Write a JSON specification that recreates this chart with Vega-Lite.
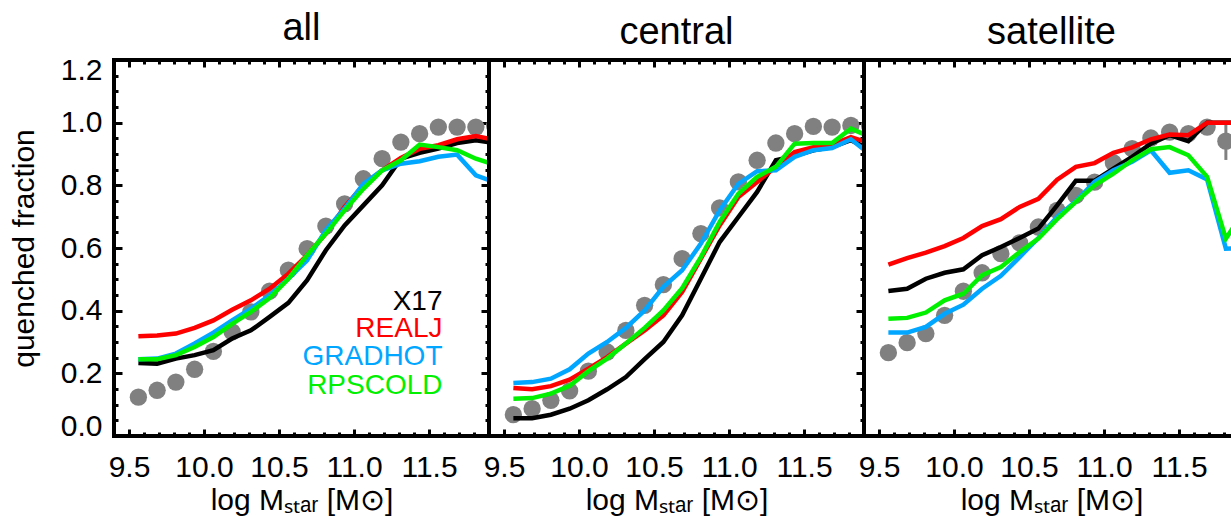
{
"$schema": "https://vega.github.io/schema/vega-lite/v6.json",
"padding": {"left": 7, "top": 8, "right": 0, "bottom": 0},
"background": "white",
"spacing": 0,
"bounds": "flush",
"config": {
  "view": {"stroke": "black", "strokeWidth": 4},
  "axis": {"labelFont": "Liberation Sans", "titleFont": "Liberation Sans", "titleFontWeight": "normal", "labelColor": "black", "titleColor": "black", "tickColor": "black", "domain": false, "grid": false},
  "title": {"font": "Liberation Sans", "fontSize": 38, "fontWeight": "normal", "color": "black", "baseline": "alphabetic", "offset": 7, "frame": "group", "anchor": "middle"}
},
"datasets": {
  "pts": [
    {"panel":"all","x":9.5625,"y":0.124},{"panel":"all","x":9.6875,"y":0.146},{"panel":"all","x":9.8125,"y":0.172},{"panel":"all","x":9.9375,"y":0.213},{"panel":"all","x":10.0625,"y":0.270},{"panel":"all","x":10.1875,"y":0.332},{"panel":"all","x":10.3125,"y":0.396},{"panel":"all","x":10.4375,"y":0.462},{"panel":"all","x":10.5625,"y":0.529},{"panel":"all","x":10.6875,"y":0.598},{"panel":"all","x":10.8125,"y":0.670},{"panel":"all","x":10.9375,"y":0.741},{"panel":"all","x":11.0625,"y":0.821},{"panel":"all","x":11.1875,"y":0.885},{"panel":"all","x":11.3125,"y":0.938},{"panel":"all","x":11.4375,"y":0.965},{"panel":"all","x":11.5625,"y":0.986},{"panel":"all","x":11.6875,"y":0.986},{"panel":"all","x":11.8125,"y":0.986},{"panel":"all","x":11.9375,"y":0.99},
    {"panel":"central","x":9.5625,"y":0.068},{"panel":"central","x":9.6875,"y":0.087},{"panel":"central","x":9.8125,"y":0.114},{"panel":"central","x":9.9375,"y":0.144},{"panel":"central","x":10.0625,"y":0.207},{"panel":"central","x":10.1875,"y":0.268},{"panel":"central","x":10.3125,"y":0.337},{"panel":"central","x":10.4375,"y":0.417},{"panel":"central","x":10.5625,"y":0.483},{"panel":"central","x":10.6875,"y":0.566},{"panel":"central","x":10.8125,"y":0.646},{"panel":"central","x":10.9375,"y":0.728},{"panel":"central","x":11.0625,"y":0.811},{"panel":"central","x":11.1875,"y":0.880},{"panel":"central","x":11.3125,"y":0.935},{"panel":"central","x":11.4375,"y":0.965},{"panel":"central","x":11.5625,"y":0.988},{"panel":"central","x":11.6875,"y":0.986},{"panel":"central","x":11.8125,"y":0.991},{"panel":"central","x":11.9375,"y":0.99},
    {"panel":"satellite","x":9.5625,"y":0.266},{"panel":"satellite","x":9.6875,"y":0.298},{"panel":"satellite","x":9.8125,"y":0.327},{"panel":"satellite","x":9.9375,"y":0.385},{"panel":"satellite","x":10.0625,"y":0.462},{"panel":"satellite","x":10.1875,"y":0.521},{"panel":"satellite","x":10.3125,"y":0.582},{"panel":"satellite","x":10.4375,"y":0.616},{"panel":"satellite","x":10.5625,"y":0.667},{"panel":"satellite","x":10.6875,"y":0.720},{"panel":"satellite","x":10.8125,"y":0.768},{"panel":"satellite","x":10.9375,"y":0.810},{"panel":"satellite","x":11.0625,"y":0.872},{"panel":"satellite","x":11.1875,"y":0.917},{"panel":"satellite","x":11.3125,"y":0.951},{"panel":"satellite","x":11.4375,"y":0.970},{"panel":"satellite","x":11.5625,"y":0.965},{"panel":"satellite","x":11.6875,"y":0.986},{"panel":"satellite","x":11.8125,"y":0.941}
  ],
  "err": [{"panel":"satellite","x":11.8125,"lo":0.881,"hi":0.993}],
  "leg": [{"model":"X17","x":11.59,"y":0.402},{"model":"REALJ","x":11.59,"y":0.316},{"model":"GRADHOT","x":11.59,"y":0.227},{"model":"RPSCOLD","x":11.59,"y":0.134}],
  "lines": [
    {"panel":"all","model":"X17","x":9.5625,"y":0.233},{"panel":"all","model":"X17","x":9.6875,"y":0.231},{"panel":"all","model":"X17","x":9.8125,"y":0.247},{"panel":"all","model":"X17","x":9.9375,"y":0.258},{"panel":"all","model":"X17","x":10.0625,"y":0.274},{"panel":"all","model":"X17","x":10.1875,"y":0.311},{"panel":"all","model":"X17","x":10.3125,"y":0.337},{"panel":"all","model":"X17","x":10.4375,"y":0.380},{"panel":"all","model":"X17","x":10.5625,"y":0.425},{"panel":"all","model":"X17","x":10.6875,"y":0.497},{"panel":"all","model":"X17","x":10.8125,"y":0.593},{"panel":"all","model":"X17","x":10.9375,"y":0.672},{"panel":"all","model":"X17","x":11.0625,"y":0.736},{"panel":"all","model":"X17","x":11.1875,"y":0.800},{"panel":"all","model":"X17","x":11.3125,"y":0.885},{"panel":"all","model":"X17","x":11.4375,"y":0.904},{"panel":"all","model":"X17","x":11.5625,"y":0.917},{"panel":"all","model":"X17","x":11.6875,"y":0.935},{"panel":"all","model":"X17","x":11.8125,"y":0.944},{"panel":"all","model":"X17","x":11.9375,"y":0.935},
    {"panel":"all","model":"REALJ","x":9.5625,"y":0.318},{"panel":"all","model":"REALJ","x":9.6875,"y":0.321},{"panel":"all","model":"REALJ","x":9.8125,"y":0.327},{"panel":"all","model":"REALJ","x":9.9375,"y":0.345},{"panel":"all","model":"REALJ","x":10.0625,"y":0.369},{"panel":"all","model":"REALJ","x":10.1875,"y":0.403},{"panel":"all","model":"REALJ","x":10.3125,"y":0.433},{"panel":"all","model":"REALJ","x":10.4375,"y":0.470},{"panel":"all","model":"REALJ","x":10.5625,"y":0.518},{"panel":"all","model":"REALJ","x":10.6875,"y":0.577},{"panel":"all","model":"REALJ","x":10.8125,"y":0.646},{"panel":"all","model":"REALJ","x":10.9375,"y":0.731},{"panel":"all","model":"REALJ","x":11.0625,"y":0.800},{"panel":"all","model":"REALJ","x":11.1875,"y":0.848},{"panel":"all","model":"REALJ","x":11.3125,"y":0.887},{"panel":"all","model":"REALJ","x":11.4375,"y":0.917},{"panel":"all","model":"REALJ","x":11.5625,"y":0.928},{"panel":"all","model":"REALJ","x":11.6875,"y":0.947},{"panel":"all","model":"REALJ","x":11.8125,"y":0.957},{"panel":"all","model":"REALJ","x":11.9375,"y":0.945},
    {"panel":"all","model":"GRADHOT","x":9.5625,"y":0.245},{"panel":"all","model":"GRADHOT","x":9.6875,"y":0.247},{"panel":"all","model":"GRADHOT","x":9.8125,"y":0.263},{"panel":"all","model":"GRADHOT","x":9.9375,"y":0.295},{"panel":"all","model":"GRADHOT","x":10.0625,"y":0.330},{"panel":"all","model":"GRADHOT","x":10.1875,"y":0.369},{"panel":"all","model":"GRADHOT","x":10.3125,"y":0.406},{"panel":"all","model":"GRADHOT","x":10.4375,"y":0.449},{"panel":"all","model":"GRADHOT","x":10.5625,"y":0.502},{"panel":"all","model":"GRADHOT","x":10.6875,"y":0.561},{"panel":"all","model":"GRADHOT","x":10.8125,"y":0.657},{"panel":"all","model":"GRADHOT","x":10.9375,"y":0.726},{"panel":"all","model":"GRADHOT","x":11.0625,"y":0.805},{"panel":"all","model":"GRADHOT","x":11.1875,"y":0.848},{"panel":"all","model":"GRADHOT","x":11.3125,"y":0.869},{"panel":"all","model":"GRADHOT","x":11.4375,"y":0.877},{"panel":"all","model":"GRADHOT","x":11.5625,"y":0.891},{"panel":"all","model":"GRADHOT","x":11.6875,"y":0.898},{"panel":"all","model":"GRADHOT","x":11.8125,"y":0.832},{"panel":"all","model":"GRADHOT","x":11.9375,"y":0.81},
    {"panel":"all","model":"RPSCOLD","x":9.5625,"y":0.245},{"panel":"all","model":"RPSCOLD","x":9.6875,"y":0.245},{"panel":"all","model":"RPSCOLD","x":9.8125,"y":0.258},{"panel":"all","model":"RPSCOLD","x":9.9375,"y":0.284},{"panel":"all","model":"RPSCOLD","x":10.0625,"y":0.316},{"panel":"all","model":"RPSCOLD","x":10.1875,"y":0.358},{"panel":"all","model":"RPSCOLD","x":10.3125,"y":0.396},{"panel":"all","model":"RPSCOLD","x":10.4375,"y":0.440},{"panel":"all","model":"RPSCOLD","x":10.5625,"y":0.502},{"panel":"all","model":"RPSCOLD","x":10.6875,"y":0.577},{"panel":"all","model":"RPSCOLD","x":10.8125,"y":0.646},{"panel":"all","model":"RPSCOLD","x":10.9375,"y":0.720},{"panel":"all","model":"RPSCOLD","x":11.0625,"y":0.789},{"panel":"all","model":"RPSCOLD","x":11.1875,"y":0.848},{"panel":"all","model":"RPSCOLD","x":11.3125,"y":0.880},{"panel":"all","model":"RPSCOLD","x":11.4375,"y":0.930},{"panel":"all","model":"RPSCOLD","x":11.5625,"y":0.922},{"panel":"all","model":"RPSCOLD","x":11.6875,"y":0.912},{"panel":"all","model":"RPSCOLD","x":11.8125,"y":0.885},{"panel":"all","model":"RPSCOLD","x":11.9375,"y":0.866},
    {"panel":"central","model":"X17","x":9.5625,"y":0.057},{"panel":"central","model":"X17","x":9.6875,"y":0.057},{"panel":"central","model":"X17","x":9.8125,"y":0.068},{"panel":"central","model":"X17","x":9.9375,"y":0.087},{"panel":"central","model":"X17","x":10.0625,"y":0.114},{"panel":"central","model":"X17","x":10.1875,"y":0.149},{"panel":"central","model":"X17","x":10.3125,"y":0.188},{"panel":"central","model":"X17","x":10.4375,"y":0.245},{"panel":"central","model":"X17","x":10.5625,"y":0.300},{"panel":"central","model":"X17","x":10.6875,"y":0.385},{"panel":"central","model":"X17","x":10.8125,"y":0.502},{"panel":"central","model":"X17","x":10.9375,"y":0.619},{"panel":"central","model":"X17","x":11.0625,"y":0.699},{"panel":"central","model":"X17","x":11.1875,"y":0.779},{"panel":"central","model":"X17","x":11.3125,"y":0.880},{"panel":"central","model":"X17","x":11.4375,"y":0.894},{"panel":"central","model":"X17","x":11.5625,"y":0.912},{"panel":"central","model":"X17","x":11.6875,"y":0.922},{"panel":"central","model":"X17","x":11.8125,"y":0.944},{"panel":"central","model":"X17","x":11.9375,"y":0.915},
    {"panel":"central","model":"REALJ","x":9.5625,"y":0.153},{"panel":"central","model":"REALJ","x":9.6875,"y":0.149},{"panel":"central","model":"REALJ","x":9.8125,"y":0.159},{"panel":"central","model":"REALJ","x":9.9375,"y":0.180},{"panel":"central","model":"REALJ","x":10.0625,"y":0.215},{"panel":"central","model":"REALJ","x":10.1875,"y":0.252},{"panel":"central","model":"REALJ","x":10.3125,"y":0.295},{"panel":"central","model":"REALJ","x":10.4375,"y":0.337},{"panel":"central","model":"REALJ","x":10.5625,"y":0.385},{"panel":"central","model":"REALJ","x":10.6875,"y":0.460},{"panel":"central","model":"REALJ","x":10.8125,"y":0.566},{"panel":"central","model":"REALJ","x":10.9375,"y":0.672},{"panel":"central","model":"REALJ","x":11.0625,"y":0.763},{"panel":"central","model":"REALJ","x":11.1875,"y":0.811},{"panel":"central","model":"REALJ","x":11.3125,"y":0.859},{"panel":"central","model":"REALJ","x":11.4375,"y":0.906},{"panel":"central","model":"REALJ","x":11.5625,"y":0.922},{"panel":"central","model":"REALJ","x":11.6875,"y":0.930},{"panel":"central","model":"REALJ","x":11.8125,"y":0.954},{"panel":"central","model":"REALJ","x":11.9375,"y":0.935},
    {"panel":"central","model":"GRADHOT","x":9.5625,"y":0.169},{"panel":"central","model":"GRADHOT","x":9.6875,"y":0.172},{"panel":"central","model":"GRADHOT","x":9.8125,"y":0.183},{"panel":"central","model":"GRADHOT","x":9.9375,"y":0.213},{"panel":"central","model":"GRADHOT","x":10.0625,"y":0.263},{"panel":"central","model":"GRADHOT","x":10.1875,"y":0.300},{"panel":"central","model":"GRADHOT","x":10.3125,"y":0.345},{"panel":"central","model":"GRADHOT","x":10.4375,"y":0.401},{"panel":"central","model":"GRADHOT","x":10.5625,"y":0.476},{"panel":"central","model":"GRADHOT","x":10.6875,"y":0.529},{"panel":"central","model":"GRADHOT","x":10.8125,"y":0.614},{"panel":"central","model":"GRADHOT","x":10.9375,"y":0.720},{"panel":"central","model":"GRADHOT","x":11.0625,"y":0.805},{"panel":"central","model":"GRADHOT","x":11.1875,"y":0.845},{"panel":"central","model":"GRADHOT","x":11.3125,"y":0.848},{"panel":"central","model":"GRADHOT","x":11.4375,"y":0.891},{"panel":"central","model":"GRADHOT","x":11.5625,"y":0.912},{"panel":"central","model":"GRADHOT","x":11.6875,"y":0.919},{"panel":"central","model":"GRADHOT","x":11.8125,"y":0.947},{"panel":"central","model":"GRADHOT","x":11.9375,"y":0.90},
    {"panel":"central","model":"RPSCOLD","x":9.5625,"y":0.119},{"panel":"central","model":"RPSCOLD","x":9.6875,"y":0.121},{"panel":"central","model":"RPSCOLD","x":9.8125,"y":0.135},{"panel":"central","model":"RPSCOLD","x":9.9375,"y":0.160},{"panel":"central","model":"RPSCOLD","x":10.0625,"y":0.207},{"panel":"central","model":"RPSCOLD","x":10.1875,"y":0.247},{"panel":"central","model":"RPSCOLD","x":10.3125,"y":0.295},{"panel":"central","model":"RPSCOLD","x":10.4375,"y":0.345},{"panel":"central","model":"RPSCOLD","x":10.5625,"y":0.401},{"panel":"central","model":"RPSCOLD","x":10.6875,"y":0.472},{"panel":"central","model":"RPSCOLD","x":10.8125,"y":0.571},{"panel":"central","model":"RPSCOLD","x":10.9375,"y":0.683},{"panel":"central","model":"RPSCOLD","x":11.0625,"y":0.773},{"panel":"central","model":"RPSCOLD","x":11.1875,"y":0.827},{"panel":"central","model":"RPSCOLD","x":11.3125,"y":0.859},{"panel":"central","model":"RPSCOLD","x":11.4375,"y":0.933},{"panel":"central","model":"RPSCOLD","x":11.5625,"y":0.935},{"panel":"central","model":"RPSCOLD","x":11.6875,"y":0.935},{"panel":"central","model":"RPSCOLD","x":11.8125,"y":0.981},{"panel":"central","model":"RPSCOLD","x":11.9375,"y":0.955},
    {"panel":"satellite","model":"X17","x":9.5625,"y":0.463},{"panel":"satellite","model":"X17","x":9.6875,"y":0.470},{"panel":"satellite","model":"X17","x":9.8125,"y":0.502},{"panel":"satellite","model":"X17","x":9.9375,"y":0.521},{"panel":"satellite","model":"X17","x":10.0625,"y":0.532},{"panel":"satellite","model":"X17","x":10.1875,"y":0.577},{"panel":"satellite","model":"X17","x":10.3125,"y":0.603},{"panel":"satellite","model":"X17","x":10.4375,"y":0.632},{"panel":"satellite","model":"X17","x":10.5625,"y":0.662},{"panel":"satellite","model":"X17","x":10.6875,"y":0.736},{"panel":"satellite","model":"X17","x":10.8125,"y":0.815},{"panel":"satellite","model":"X17","x":10.9375,"y":0.815},{"panel":"satellite","model":"X17","x":11.0625,"y":0.853},{"panel":"satellite","model":"X17","x":11.1875,"y":0.891},{"panel":"satellite","model":"X17","x":11.3125,"y":0.933},{"panel":"satellite","model":"X17","x":11.4375,"y":0.960},{"panel":"satellite","model":"X17","x":11.5625,"y":0.941},{"panel":"satellite","model":"X17","x":11.6875,"y":1.0},{"panel":"satellite","model":"X17","x":11.8125,"y":1.0},{"panel":"satellite","model":"X17","x":11.9375,"y":1.0},
    {"panel":"satellite","model":"REALJ","x":9.5625,"y":0.547},{"panel":"satellite","model":"REALJ","x":9.6875,"y":0.568},{"panel":"satellite","model":"REALJ","x":9.8125,"y":0.585},{"panel":"satellite","model":"REALJ","x":9.9375,"y":0.606},{"panel":"satellite","model":"REALJ","x":10.0625,"y":0.632},{"panel":"satellite","model":"REALJ","x":10.1875,"y":0.670},{"panel":"satellite","model":"REALJ","x":10.3125,"y":0.692},{"panel":"satellite","model":"REALJ","x":10.4375,"y":0.731},{"panel":"satellite","model":"REALJ","x":10.5625,"y":0.757},{"panel":"satellite","model":"REALJ","x":10.6875,"y":0.818},{"panel":"satellite","model":"REALJ","x":10.8125,"y":0.859},{"panel":"satellite","model":"REALJ","x":10.9375,"y":0.871},{"panel":"satellite","model":"REALJ","x":11.0625,"y":0.904},{"panel":"satellite","model":"REALJ","x":11.1875,"y":0.921},{"panel":"satellite","model":"REALJ","x":11.3125,"y":0.947},{"panel":"satellite","model":"REALJ","x":11.4375,"y":0.962},{"panel":"satellite","model":"REALJ","x":11.5625,"y":0.960},{"panel":"satellite","model":"REALJ","x":11.6875,"y":1.0},{"panel":"satellite","model":"REALJ","x":11.8125,"y":1.0},{"panel":"satellite","model":"REALJ","x":11.9375,"y":1.0},
    {"panel":"satellite","model":"GRADHOT","x":9.5625,"y":0.330},{"panel":"satellite","model":"GRADHOT","x":9.6875,"y":0.330},{"panel":"satellite","model":"GRADHOT","x":9.8125,"y":0.348},{"panel":"satellite","model":"GRADHOT","x":9.9375,"y":0.390},{"panel":"satellite","model":"GRADHOT","x":10.0625,"y":0.419},{"panel":"satellite","model":"GRADHOT","x":10.1875,"y":0.470},{"panel":"satellite","model":"GRADHOT","x":10.3125,"y":0.511},{"panel":"satellite","model":"GRADHOT","x":10.4375,"y":0.571},{"panel":"satellite","model":"GRADHOT","x":10.5625,"y":0.632},{"panel":"satellite","model":"GRADHOT","x":10.6875,"y":0.699},{"panel":"satellite","model":"GRADHOT","x":10.8125,"y":0.749},{"panel":"satellite","model":"GRADHOT","x":10.9375,"y":0.811},{"panel":"satellite","model":"GRADHOT","x":11.0625,"y":0.848},{"panel":"satellite","model":"GRADHOT","x":11.1875,"y":0.875},{"panel":"satellite","model":"GRADHOT","x":11.3125,"y":0.912},{"panel":"satellite","model":"GRADHOT","x":11.4375,"y":0.840},{"panel":"satellite","model":"GRADHOT","x":11.5625,"y":0.848},{"panel":"satellite","model":"GRADHOT","x":11.6875,"y":0.819},{"panel":"satellite","model":"GRADHOT","x":11.8125,"y":0.598},{"panel":"satellite","model":"GRADHOT","x":11.9375,"y":0.60},
    {"panel":"satellite","model":"RPSCOLD","x":9.5625,"y":0.374},{"panel":"satellite","model":"RPSCOLD","x":9.6875,"y":0.377},{"panel":"satellite","model":"RPSCOLD","x":9.8125,"y":0.394},{"panel":"satellite","model":"RPSCOLD","x":9.9375,"y":0.433},{"panel":"satellite","model":"RPSCOLD","x":10.0625,"y":0.454},{"panel":"satellite","model":"RPSCOLD","x":10.1875,"y":0.513},{"panel":"satellite","model":"RPSCOLD","x":10.3125,"y":0.539},{"panel":"satellite","model":"RPSCOLD","x":10.4375,"y":0.587},{"panel":"satellite","model":"RPSCOLD","x":10.5625,"y":0.630},{"panel":"satellite","model":"RPSCOLD","x":10.6875,"y":0.692},{"panel":"satellite","model":"RPSCOLD","x":10.8125,"y":0.747},{"panel":"satellite","model":"RPSCOLD","x":10.9375,"y":0.800},{"panel":"satellite","model":"RPSCOLD","x":11.0625,"y":0.837},{"panel":"satellite","model":"RPSCOLD","x":11.1875,"y":0.880},{"panel":"satellite","model":"RPSCOLD","x":11.3125,"y":0.915},{"panel":"satellite","model":"RPSCOLD","x":11.4375,"y":0.922},{"panel":"satellite","model":"RPSCOLD","x":11.5625,"y":0.896},{"panel":"satellite","model":"RPSCOLD","x":11.6875,"y":0.827},{"panel":"satellite","model":"RPSCOLD","x":11.8125,"y":0.630},{"panel":"satellite","model":"RPSCOLD","x":11.9375,"y":0.72}
  ]
},
"hconcat": [
  {
    "width": 375, "height": 376,
    "title": {"text": "all"},
    "layer": [
      {"data": {"name": "pts"}, "transform": [{"filter": "datum.panel === 'all'"}],
       "mark": {"type": "circle", "size": 300, "color": "#808080", "opacity": 1, "clip": true},
       "encoding": {
         "x": {"field": "x", "type": "quantitative", "scale": {"domain": [9.4, 11.9], "nice": false, "zero": false},
               "axis": {"orient": "bottom", "values": [9.5,9.6,9.7,9.8,9.9,10,10.1,10.2,10.3,10.4,10.5,10.6,10.7,10.8,10.9,11,11.1,11.2,11.3,11.4,11.5,11.6,11.7,11.8],
                        "tickSize": {"condition": {"test": "abs(datum.value*2-round(datum.value*2))<0.001", "value": -7}, "value": -4},
                        "tickWidth": 3, "labelExpr": "abs(datum.value*2-round(datum.value*2))<0.001 ? format(datum.value,'.1f') : ''",
                        "labelFontSize": 30, "labelPadding": 23, "labelOverlap": false, "labelFlush": false,
                        "title": "log Mₛₜₐᵣ [M⊙]", "titleFontSize": 30, "titlePadding": 0}},
         "y": {"field": "y", "type": "quantitative", "scale": {"domain": [0, 1.2], "nice": false, "zero": false},
               "axis": {"orient": "left", "values": [0,0.05,0.1,0.15,0.2,0.25,0.3,0.35,0.4,0.45,0.5,0.55,0.6,0.65,0.7,0.75,0.8,0.85,0.9,0.95,1,1.05,1.1,1.15,1.2],
                        "tickSize": {"condition": {"test": "abs(datum.value*5-round(datum.value*5))<0.001", "value": -8}, "value": -4},
                        "tickWidth": 3, "labelExpr": "abs(datum.value*5-round(datum.value*5))<0.001 ? format(datum.value,'.1f') : ''",
                        "labelFontSize": 30, "labelPadding": 20, "labelOverlap": false, "labelFlush": true, "labelFlushOffset": 5,
                        "title": "quenched fraction", "titleFontSize": 30, "titlePadding": 21}}
       }},
      {"data": {"name": "lines"}, "transform": [{"filter": "datum.panel === 'all'"}],
       "mark": {"type": "line", "strokeWidth": 4.5, "clip": true},
       "encoding": {
         "x": {"field": "x", "type": "quantitative", "scale": {"domain": [9.4, 11.9], "nice": false, "zero": false},
               "axis": {"orient": "top", "values": [9.5,9.6,9.7,9.8,9.9,10,10.1,10.2,10.3,10.4,10.5,10.6,10.7,10.8,10.9,11,11.1,11.2,11.3,11.4,11.5,11.6,11.7,11.8],
                        "tickSize": {"condition": {"test": "abs(datum.value*2-round(datum.value*2))<0.001", "value": -7}, "value": -4},
                        "tickWidth": 3, "labels": false, "title": null}},
         "y": {"field": "y", "type": "quantitative", "scale": {"domain": [0, 1.2], "nice": false, "zero": false},
               "axis": {"orient": "right", "values": [0,0.05,0.1,0.15,0.2,0.25,0.3,0.35,0.4,0.45,0.5,0.55,0.6,0.65,0.7,0.75,0.8,0.85,0.9,0.95,1,1.05,1.1,1.15,1.2],
                        "tickSize": {"condition": {"test": "abs(datum.value*5-round(datum.value*5))<0.001", "value": -8}, "value": -4},
                        "tickWidth": 3, "labels": false, "title": null}},
         "color": {"field": "model", "type": "nominal", "scale": {"domain": ["X17","REALJ","GRADHOT","RPSCOLD"], "range": ["#000000","#ff0000","#00a6ff","#00f000"]}, "legend": null}
       }},
      {"data": {"name": "leg"},
       "mark": {"type": "text", "align": "right", "baseline": "alphabetic", "font": "Liberation Sans", "fontSize": 28},
       "encoding": {
         "x": {"field": "x", "type": "quantitative", "scale": {"domain": [9.4, 11.9], "nice": false, "zero": false}, "axis": null},
         "y": {"field": "y", "type": "quantitative", "scale": {"domain": [0, 1.2], "nice": false, "zero": false}, "axis": null},
         "text": {"field": "model"},
         "color": {"field": "model", "type": "nominal", "scale": {"domain": ["X17","REALJ","GRADHOT","RPSCOLD"], "range": ["#000000","#ff0000","#00a6ff","#00f000"]}, "legend": null}
       }}
    ],
    "resolve": {"axis": {"x": "independent", "y": "independent"}}
  },
  {
    "width": 375, "height": 376,
    "title": {"text": "central"},
    "layer": [
      {"data": {"name": "pts"}, "transform": [{"filter": "datum.panel === 'central'"}],
       "mark": {"type": "circle", "size": 300, "color": "#808080", "opacity": 1, "clip": true},
       "encoding": {
         "x": {"field": "x", "type": "quantitative", "scale": {"domain": [9.4, 11.9], "nice": false, "zero": false},
               "axis": {"orient": "bottom", "values": [9.5,9.6,9.7,9.8,9.9,10,10.1,10.2,10.3,10.4,10.5,10.6,10.7,10.8,10.9,11,11.1,11.2,11.3,11.4,11.5,11.6,11.7,11.8],
                        "tickSize": {"condition": {"test": "abs(datum.value*2-round(datum.value*2))<0.001", "value": -7}, "value": -4},
                        "tickWidth": 3, "labelExpr": "abs(datum.value*2-round(datum.value*2))<0.001 ? format(datum.value,'.1f') : ''",
                        "labelFontSize": 30, "labelPadding": 23, "labelOverlap": false, "labelFlush": false,
                        "title": "log Mₛₜₐᵣ [M⊙]", "titleFontSize": 30, "titlePadding": 0}},
         "y": {"field": "y", "type": "quantitative", "scale": {"domain": [0, 1.2], "nice": false, "zero": false}, "axis": null}
       }},
      {"data": {"name": "lines"}, "transform": [{"filter": "datum.panel === 'central'"}],
       "mark": {"type": "line", "strokeWidth": 4.5, "clip": true},
       "encoding": {
         "x": {"field": "x", "type": "quantitative", "scale": {"domain": [9.4, 11.9], "nice": false, "zero": false},
               "axis": {"orient": "top", "values": [9.5,9.6,9.7,9.8,9.9,10,10.1,10.2,10.3,10.4,10.5,10.6,10.7,10.8,10.9,11,11.1,11.2,11.3,11.4,11.5,11.6,11.7,11.8],
                        "tickSize": {"condition": {"test": "abs(datum.value*2-round(datum.value*2))<0.001", "value": -7}, "value": -4},
                        "tickWidth": 3, "labels": false, "title": null}},
         "y": {"field": "y", "type": "quantitative", "scale": {"domain": [0, 1.2], "nice": false, "zero": false},
               "axis": {"orient": "right", "values": [0,0.05,0.1,0.15,0.2,0.25,0.3,0.35,0.4,0.45,0.5,0.55,0.6,0.65,0.7,0.75,0.8,0.85,0.9,0.95,1,1.05,1.1,1.15,1.2],
                        "tickSize": {"condition": {"test": "abs(datum.value*5-round(datum.value*5))<0.001", "value": -8}, "value": -4},
                        "tickWidth": 3, "labels": false, "title": null}},
         "color": {"field": "model", "type": "nominal", "scale": {"domain": ["X17","REALJ","GRADHOT","RPSCOLD"], "range": ["#000000","#ff0000","#00a6ff","#00f000"]}, "legend": null}
       }}
    ],
    "resolve": {"axis": {"x": "independent", "y": "independent"}}
  },
  {
    "width": 375, "height": 376,
    "title": {"text": "satellite"},
    "layer": [
      {"data": {"name": "pts"}, "transform": [{"filter": "datum.panel === 'satellite'"}],
       "mark": {"type": "circle", "size": 300, "color": "#808080", "opacity": 1, "clip": true},
       "encoding": {
         "x": {"field": "x", "type": "quantitative", "scale": {"domain": [9.4, 11.9], "nice": false, "zero": false},
               "axis": {"orient": "bottom", "values": [9.5,9.6,9.7,9.8,9.9,10,10.1,10.2,10.3,10.4,10.5,10.6,10.7,10.8,10.9,11,11.1,11.2,11.3,11.4,11.5,11.6,11.7,11.8],
                        "tickSize": {"condition": {"test": "abs(datum.value*2-round(datum.value*2))<0.001", "value": -7}, "value": -4},
                        "tickWidth": 3, "labelExpr": "abs(datum.value*2-round(datum.value*2))<0.001 ? format(datum.value,'.1f') : ''",
                        "labelFontSize": 30, "labelPadding": 23, "labelOverlap": false, "labelFlush": false,
                        "title": "log Mₛₜₐᵣ [M⊙]", "titleFontSize": 30, "titlePadding": 0}},
         "y": {"field": "y", "type": "quantitative", "scale": {"domain": [0, 1.2], "nice": false, "zero": false}, "axis": null}
       }},
      {"data": {"name": "err"},
       "mark": {"type": "rule", "color": "#808080", "strokeWidth": 3, "clip": true},
       "encoding": {
         "x": {"field": "x", "type": "quantitative", "scale": {"domain": [9.4, 11.9], "nice": false, "zero": false}, "axis": null},
         "y": {"field": "lo", "type": "quantitative", "scale": {"domain": [0, 1.2], "nice": false, "zero": false}, "axis": null},
         "y2": {"field": "hi"}
       }},
      {"data": {"name": "lines"}, "transform": [{"filter": "datum.panel === 'satellite'"}],
       "mark": {"type": "line", "strokeWidth": 4.5, "clip": true},
       "encoding": {
         "x": {"field": "x", "type": "quantitative", "scale": {"domain": [9.4, 11.9], "nice": false, "zero": false},
               "axis": {"orient": "top", "values": [9.5,9.6,9.7,9.8,9.9,10,10.1,10.2,10.3,10.4,10.5,10.6,10.7,10.8,10.9,11,11.1,11.2,11.3,11.4,11.5,11.6,11.7,11.8],
                        "tickSize": {"condition": {"test": "abs(datum.value*2-round(datum.value*2))<0.001", "value": -7}, "value": -4},
                        "tickWidth": 3, "labels": false, "title": null}},
         "y": {"field": "y", "type": "quantitative", "scale": {"domain": [0, 1.2], "nice": false, "zero": false},
               "axis": {"orient": "right", "values": [0,0.05,0.1,0.15,0.2,0.25,0.3,0.35,0.4,0.45,0.5,0.55,0.6,0.65,0.7,0.75,0.8,0.85,0.9,0.95,1,1.05,1.1,1.15,1.2],
                        "tickSize": {"condition": {"test": "abs(datum.value*5-round(datum.value*5))<0.001", "value": -8}, "value": -4},
                        "tickWidth": 3, "labels": false, "title": null}},
         "color": {"field": "model", "type": "nominal", "scale": {"domain": ["X17","REALJ","GRADHOT","RPSCOLD"], "range": ["#000000","#ff0000","#00a6ff","#00f000"]}, "legend": null}
       }}
    ],
    "resolve": {"axis": {"x": "independent", "y": "independent"}}
  }
]
}
